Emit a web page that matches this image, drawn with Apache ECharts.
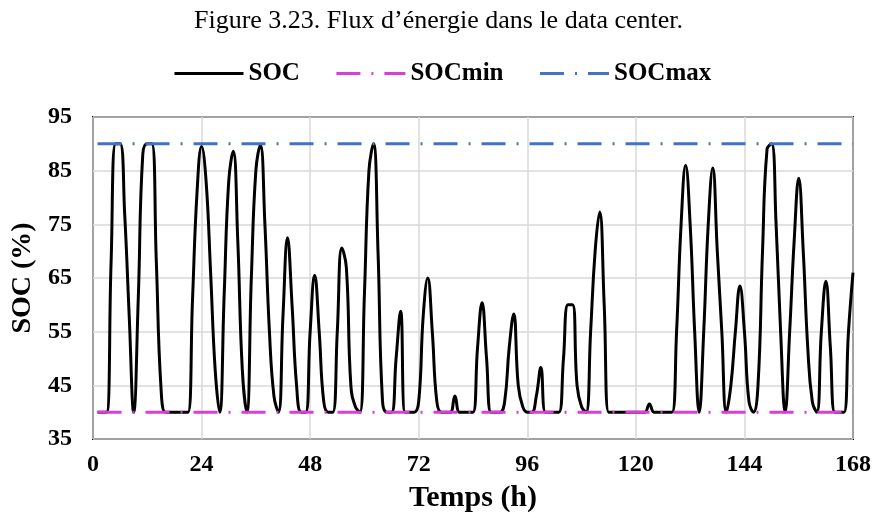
<!DOCTYPE html>
<html>
<head>
<meta charset="utf-8">
<script src="https://cdn.jsdelivr.net/npm/echarts@6/dist/echarts.min.js"></script>
<style>html,body{margin:0;padding:0;background:#fff;}#c{width:877px;height:518px;}</style>
</head>
<body>
<div id="c"></div>
<script>
// SOC (%) hourly values, hours 1..168
const soc = [
  40, 40, 40, 68, 90, 90, 77, 58, 40, 61,   // 1-10
  88, 90, 90, 68, 45, 40, 40, 40, 40, 40,   // 11-20
  40, 61, 81, 89.5, 83, 66, 48, 40, 62, 83, // 21-30
  88.6, 72, 48, 40, 65, 85, 89.8, 75, 55, 43, // 31-40
  40, 58, 72.5, 60, 45, 40, 40, 55, 65.5, 55, // 41-50
  42, 40, 40, 55, 70.6, 67, 45, 41, 40, 62,   // 51-60
  85, 90, 70, 42, 40, 40, 50, 58.8, 40, 40,   // 61-70
  40, 42, 58, 65, 55, 42, 40, 40, 40, 43,     // 71-80
  40, 40, 40, 40, 52, 60.4, 50, 40, 40, 40,   // 81-90
  42, 52, 58.3, 45, 41, 40, 40, 43, 48.3, 40, // 91-100
  40, 40, 40, 50, 60, 60, 45, 41, 40, 55,     // 101-110
  70, 77.3, 60, 40, 40, 40, 40, 40, 40, 40,   // 111-120
  40, 40, 41.5, 40, 40, 40, 40, 40, 55, 75,   // 121-130
  86, 75, 55, 40, 55, 75, 85.5, 70, 55, 40,   // 131-140
  45, 55, 63.5, 55, 42, 40, 45, 70, 89, 90,   // 141-150
  75, 55, 40, 55, 72, 83.6, 70, 52, 42, 40,   // 151-160
  55, 64.4, 52, 40, 40, 40, 55, 66            // 161-168
];
const hours = soc.map((_, i) => i + 1);
const limitHours = [1, 168];
const socMinValues = [40, 40];
const socMaxValues = [90, 90];
const xTicks = [0, 24, 48, 72, 96, 120, 144, 168];
const yTicks = [35, 45, 55, 65, 75, 85, 95];

const serif = '"Liberation Serif", "Times New Roman", serif';
const chart = echarts.init(document.getElementById('c'), null, {renderer: 'canvas'});
chart.setOption({
  animation: false,
  backgroundColor: '#ffffff',
  title: {
    text: 'Figure 3.23. Flux d\u2019énergie dans le data center.',
    left: 'center', top: 3,
    textStyle: {fontFamily: serif, fontWeight: 'normal', fontSize: 26, color: '#000'}
  },
  legend: {
    left: 173, top: 61, padding: 0,
    itemWidth: 69, itemHeight: 14, itemGap: 35,
    itemStyle: {opacity: 0},
    lineStyle: {width: 3},
    textStyle: {fontFamily: serif, fontWeight: 'bold', fontSize: 25, color: '#000', padding: [0, 0, 0, 0]},
    data: ['SOC', 'SOCmin', 'SOCmax']
  },
  grid: {left: 93, right: 24, top: 117, bottom: 77, show: true, borderColor: '#000', borderWidth: 2, backgroundColor: 'transparent'},
  xAxis: {
    type: 'value', min: xTicks[0], max: xTicks[xTicks.length - 1], interval: 24,
    name: 'Temps (h)', nameLocation: 'middle', nameGap: 44,
    nameTextStyle: {fontFamily: serif, fontWeight: 'bold', fontSize: 30, color: '#000'},
    axisLine: {show: false}, axisTick: {show: false},
    axisLabel: {fontFamily: serif, fontWeight: 'bold', fontSize: 24, color: '#000', margin: 14},
    splitLine: {show: true, lineStyle: {color: '#d9d9d9', width: 1.5}}
  },
  yAxis: {
    type: 'value', min: yTicks[0], max: yTicks[yTicks.length - 1], interval: 10,
    name: 'SOC (%)', nameLocation: 'middle', nameGap: 55,
    nameTextStyle: {fontFamily: serif, fontWeight: 'bold', fontSize: 28, color: '#000'},
    axisLine: {show: false}, axisTick: {show: false},
    axisLabel: {fontFamily: serif, fontWeight: 'bold', fontSize: 24, color: '#000', margin: 21},
    splitLine: {show: true, lineStyle: {color: '#d9d9d9', width: 1.5}}
  },
  series: [
    {
      name: 'SOC', type: 'line', smooth: 0.45, showSymbol: false, symbol: 'none',
      data: hours.map((h, i) => [h, soc[i]]),
      lineStyle: {color: '#000', width: 3}, itemStyle: {color: '#000'}, z: 2
    },
    {
      name: 'SOCmin', type: 'line', showSymbol: false, symbol: 'none',
      data: limitHours.map((h, i) => [h, socMinValues[i]]),
      lineStyle: {color: '#d93ed9', width: 3, type: [24, 11, 2, 11]}, itemStyle: {color: '#d93ed9'}, z: 3
    },
    {
      name: 'SOCmax', type: 'line', showSymbol: false, symbol: 'none',
      data: limitHours.map((h, i) => [h, socMaxValues[i]]),
      lineStyle: {color: '#4472c4', width: 3, type: [24, 11, 2, 11]}, itemStyle: {color: '#4472c4'}, z: 3
    }
  ]
});
</script>
</body>
</html>
